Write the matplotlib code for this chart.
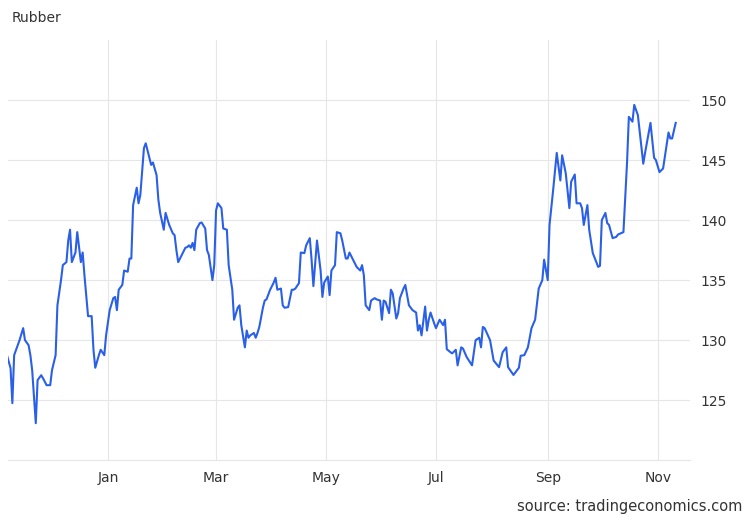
import matplotlib
matplotlib.use("Agg")
import matplotlib.pyplot as plt
import pandas as pd

days = [-56,-54,-53,-52,-51,-49,-47,-46,-44,-43,
        -42,-40,-39,-37,-36,-34,-32,-31,-29,-28,
        -26,-25,-23,-22,-21,-20,-18,-17,-15,-14,
        -13,-11,-9,-8,-7,-5,-4,-2,-1,1,
        3,4,5,6,8,9,11,12,13,14,
        16,17,18,20,21,22,24,25,27,28,
        29,31,32,34,36,37,38,39,41,43,
        44,45,46,47,48,49,51,52,54,55,
        56,58,59,60,61,63,64,66,67,69,
        70,72,73,74,76,77,78,79,81,82,
        83,84,86,87,88,90,92,93,94,96,
        97,98,100,102,103,104,106,107,109,110,
        112,113,114,116,118,119,120,122,123,124,
        126,127,129,130,132,133,134,136,137,138,
        140,141,142,143,145,146,148,149,151,152,
        153,154,156,157,158,160,161,162,164,165,
        167,168,169,171,172,173,174,176,177,178,
        179,181,182,184,186,187,188,190,191,193,
        194,
        196,197,199,202,204,206,207,208,209,212,
        214,217,219,221,222,225,227,228,229,231,
        233,235,237,239,241,242,244,245,247,249,
        251,252,254,256,257,259,260,262,263,264,
        266,267,269,272,273,274,276,277,278,280,
        282,283,286,288,289,291,292,294,297,298,
        301,303,304,306,308,311,312,313,315]

values = [128.75,127.67,124.75,128.75,129.17,130,131,130,129.58,128.75,
          127.5,123.08,126.67,127.08,126.83,126.25,126.25,127.5,128.75,132.9,
          135,136.25,136.5,138.3,139.2,136.5,137.3,139,136.5,137.3,
          135.4,132,132,129.2,127.7,128.75,129.2,128.75,130.4,132.5,
          133.5,133.6,132.5,134.2,134.6,135.8,135.7,136.8,136.8,141.25,
          142.7,141.4,142.1,146,146.4,145.8,144.6,144.8,143.75,141.7,
          140.6,139.2,140.6,139.6,138.9,138.75,137.5,136.5,137.1,137.7,
          137.75,137.9,137.7,138.1,137.5,139.2,139.75,139.8,139.3,137.5,
          137.1,135,136.25,140.8,141.4,141,139.3,139.2,136.25,134.2,
          131.7,132.7,132.9,131.25,129.4,130.8,130.2,130.4,130.6,130.2,
          130.6,131.1,132.7,133.3,133.4,134.2,134.8,135.2,134.2,134.3,
          132.9,132.7,132.75,134.2,134.2,134.3,134.75,137.3,137.25,137.9,
          138.5,136.7,134.5,138.3,135.8,133.6,134.8,135.3,133.75,135.8,
          136.25,139,138.9,138.3,136.8,136.8,137.3,136.7,136.4,136.1,
          135.8,136.25,135.4,132.9,132.5,133.3,133.5,133.4,133.3,131.7,
          133.3,133.2,132.25,134.2,133.9,131.8,132.25,133.5,134.3,134.6,
          132.9,132.7,132.5,132.3,130.8,131.25,130.4,132.8,130.8,131.7,
          132.3,131.4,131,131.7,131.25,131.7,129.25,129,128.9,129.2,
          127.9,
          129.4,129.3,128.6,127.9,130,130.2,129.4,131.1,131,130,
          128.3,127.75,129,129.4,127.75,127.1,127.5,127.7,128.7,128.75,
          129.4,131,131.7,134.3,135,136.7,135,139.6,142.5,145.6,
          143.3,145.4,143.9,141,143.2,143.8,141.4,141.4,141,139.6,
          141.25,139.2,137.25,136.1,136.2,140,140.6,139.75,139.6,138.5,
          138.6,138.8,139,144.8,148.6,148.2,149.6,148.75,144.7,145.6,
          148.1,145.2,145,144,144.3,147.3,146.8,146.8,148.1]

tick_dates = ["2024-01-01", "2024-03-01", "2024-05-01", "2024-07-01", "2024-09-01", "2024-11-01"]
tick_labels = ["Jan", "Mar", "May", "Jul", "Sep", "Nov"]
y_ticks = [125, 130, 135, 140, 145, 150]

base = pd.Timestamp("2024-01-01")
dates = [base + pd.Timedelta(days=d) for d in days]

fig = plt.figure(figsize=(7.5, 5.2), dpi=100)
ax = fig.add_axes([0.0107, 0.115, 0.909, 0.808])
ax.plot(dates, values, color="#2a5fe8", lw=1.5)
ax.set_ylim(120, 155)
ax.set_xlim(base + pd.Timedelta(days=-55.4), base + pd.Timedelta(days=322.8))
ax.set_yticks(y_ticks)
ax.yaxis.tick_right()
ax.set_xticks([pd.Timestamp(d) for d in tick_dates])
ax.set_xticklabels(tick_labels)
ax.tick_params(length=0, labelsize=10, colors="#333333", pad=8)
ax.grid(True, color="#e6e6e6", lw=0.8)
for s in ["top", "left", "right"]:
    ax.spines[s].set_visible(False)
ax.spines["bottom"].set_color("#e6e6e6")
fig.text(0.016, 0.965, "Rubber", fontsize=10, color="#333333", va="center")
fig.text(0.99, 0.025, "source: tradingeconomics.com", fontsize=10.5, color="#333333", ha="right", va="center")
fig.savefig("out.png", dpi=100)
